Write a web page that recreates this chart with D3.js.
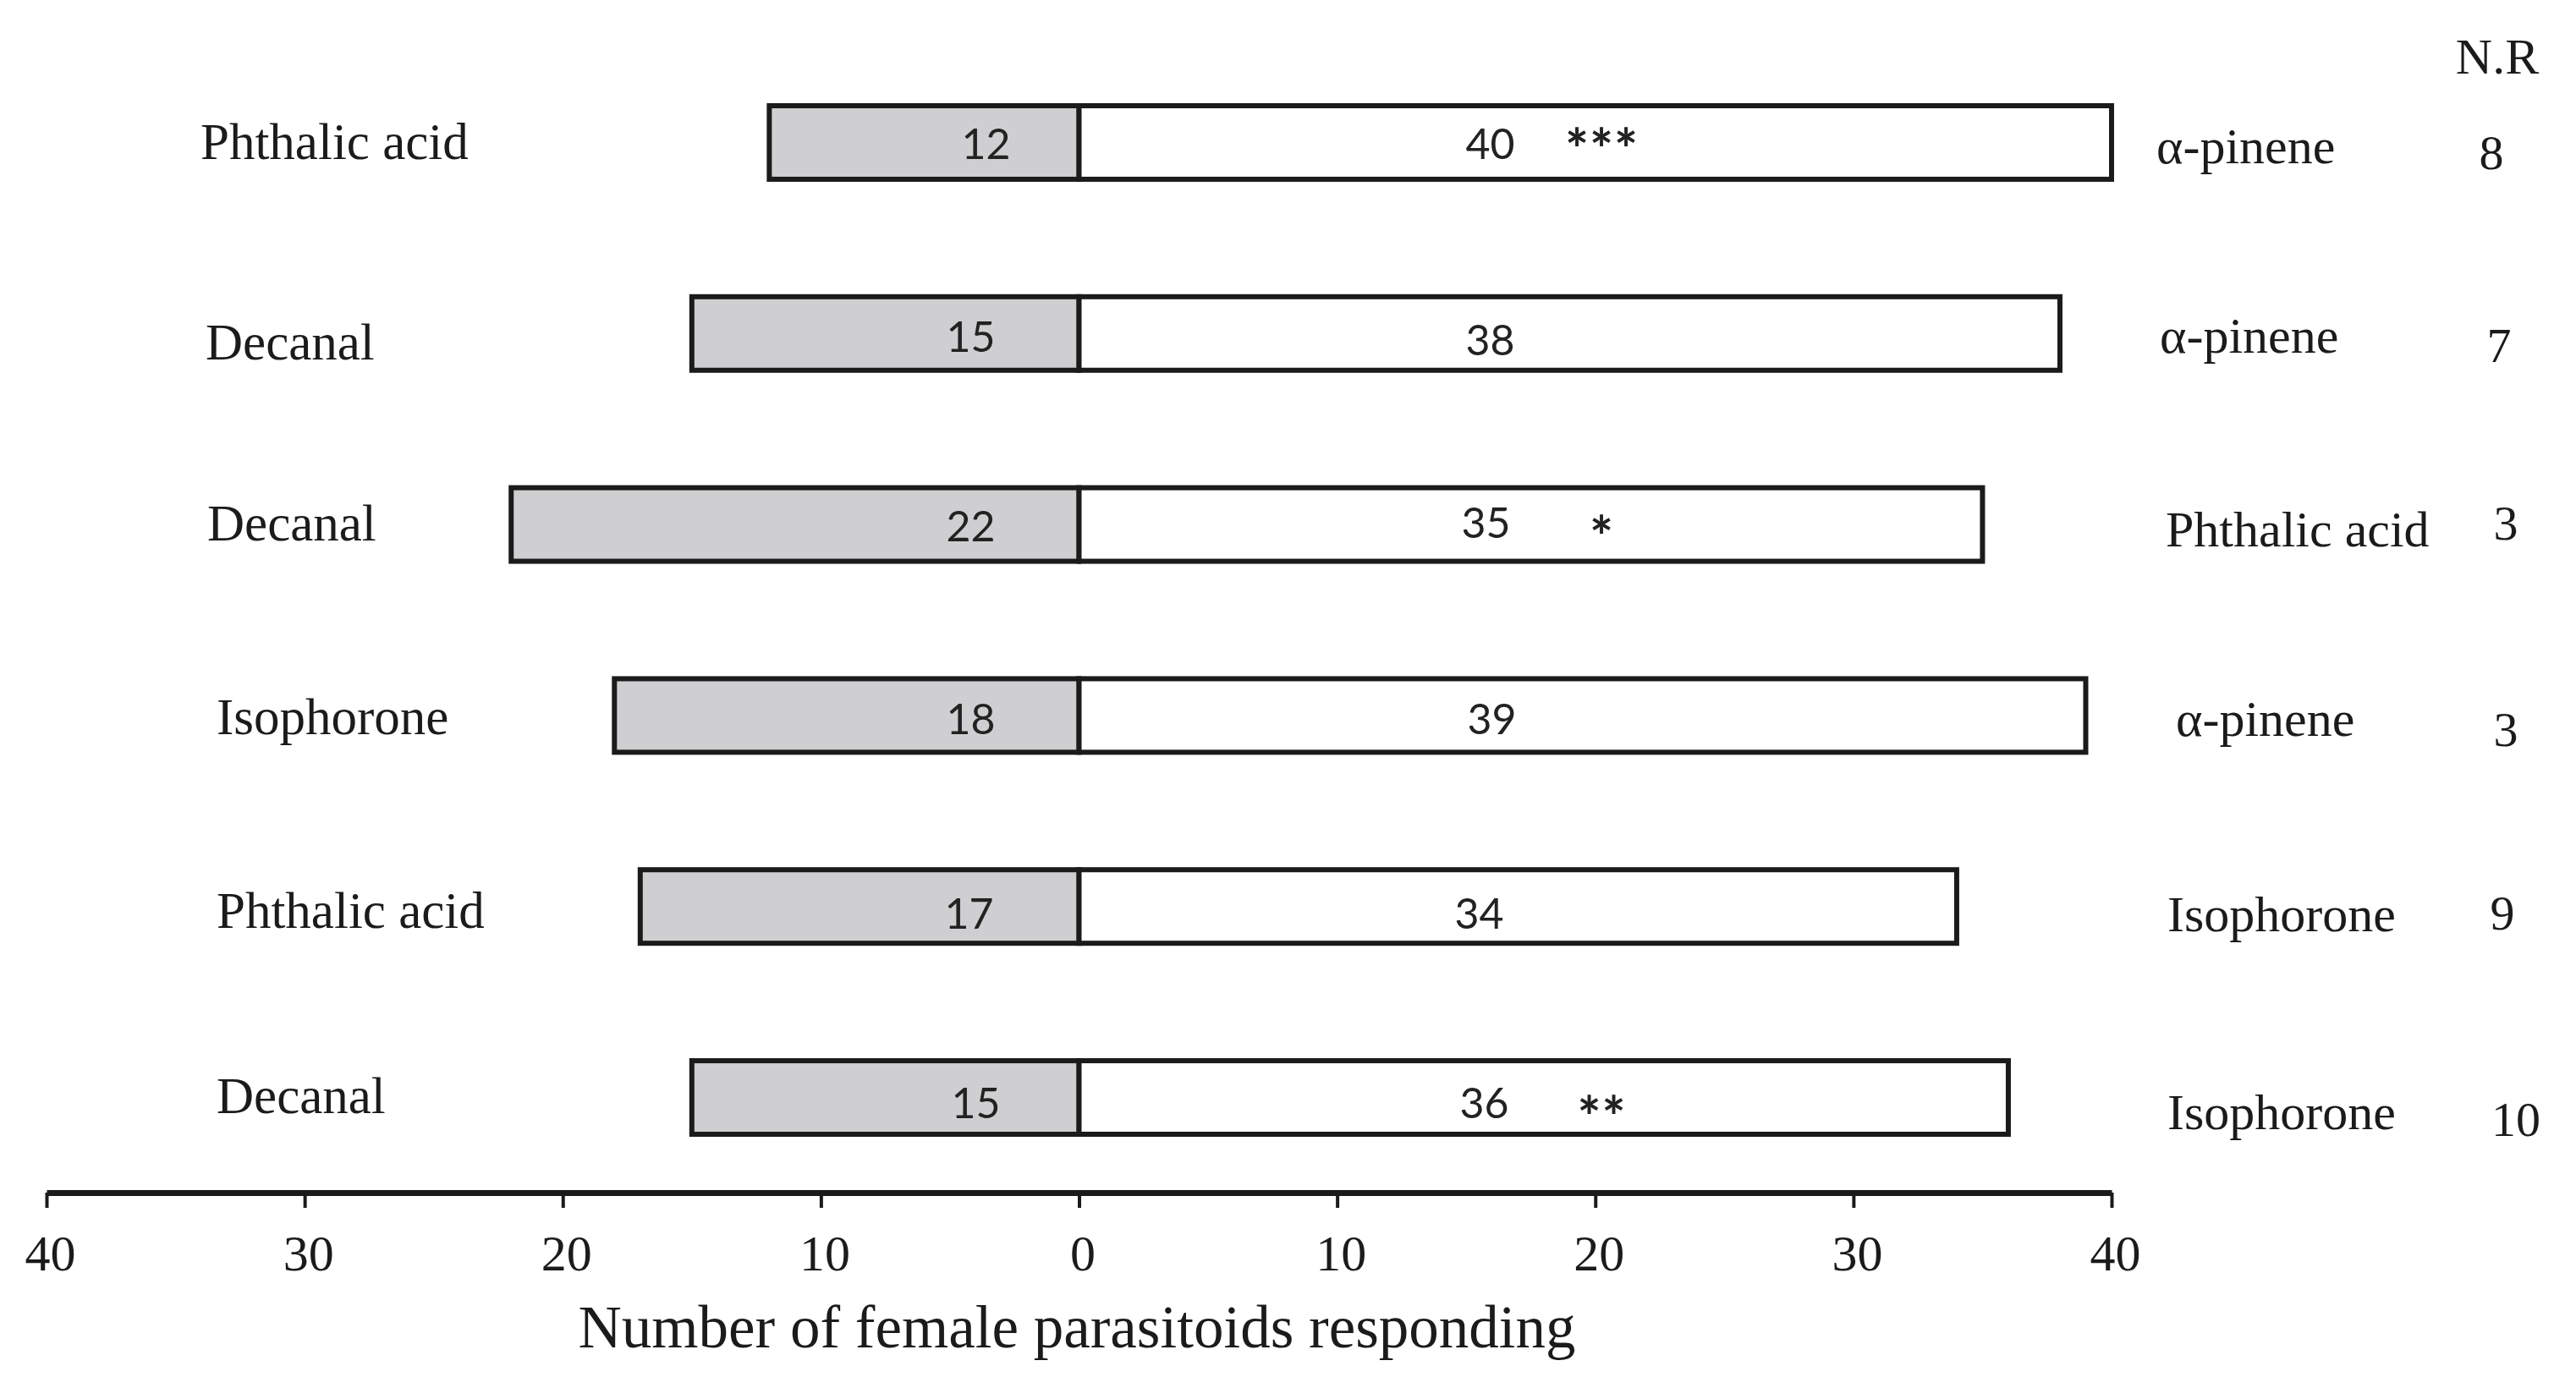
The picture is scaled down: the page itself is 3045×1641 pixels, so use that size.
<!DOCTYPE html>
<html>
<head>
<meta charset="utf-8">
<script src="https://cdn.jsdelivr.net/npm/d3@7"></script>
<style>
  html, body { margin: 0; padding: 0; background: #ffffff; }
  svg { display: block; }
</style>
</head>
<body>
<svg id="chart" width="3045" height="1641"></svg>
<script>
// ---------------- data ----------------
const leftOdours = ["Phthalic acid", "Decanal", "Decanal", "Isophorone", "Phthalic acid", "Decanal"];
const rightOdours = ["α-pinene", "α-pinene", "Phthalic acid", "α-pinene", "Isophorone", "Isophorone"];
const leftCounts = [12, 15, 22, 18, 17, 15];
const rightCounts = [40, 38, 35, 39, 34, 36];
const noResponse = [8, 7, 3, 3, 9, 10];
const significance = ["***", "", "*", "", "", "**"];
const tickValues = [-40, -30, -20, -10, 0, 10, 20, 30, 40];
const axisTitle = "Number of female parasitoids responding";
const nrTitle = "N.R";

// ---------------- layout (text nudges only) ----------------
const layout = {
  leftLabelX: [237, 243, 245, 256, 256, 256],
  leftLabelDy: [0, 11, -1, 2, 5, -2],
  rightLabelX: [2549, 2553, 2560, 2572, 2562, 2562],
  rightLabelDy: [5, 3, 6, 4, 9, 17],
  nrX: [2945, 2954, 2962, 2962, 2958, 2974],
  nrDy: [12, 14, -2, 16, 7, 25],
  leftValDx: [-110, -128, -128, -128, -130, -122],
  leftValDy: [0, 2, 0, 2, 6, 4],
  rightValDx: [486, 486, 481, 488, 473, 479],
  rightValDy: [0, 6, -4, 2, 6, 4],
  starDy: [-4, 0, 2, 0, 0, 10]
};

const serif = "'Liberation Serif', 'Times New Roman', serif";
const sans = "Lato, 'Noto Sans', sans-serif";
const ink = "#1b1b1b";

const svg = d3.select("#chart");
const idx = d3.range(leftOdours.length);

const x = d3.scaleLinear().domain([-40, 40]).range([55, 2496]);
const y = d3.scaleBand().domain(idx).range([125, 1341]).paddingInner(0.615).paddingOuter(0);
const bw = y.bandwidth();
const cy = i => y(i) + bw / 2;

// ---------------- bars ----------------
const rows = svg.append("g").selectAll("g").data(idx).join("g");

rows.append("rect")
  .attr("x", i => x(-leftCounts[i]))
  .attr("y", i => y(i))
  .attr("width", i => x(0) - x(-leftCounts[i]))
  .attr("height", bw)
  .attr("fill", "#cfcfd1")
  .attr("stroke", ink)
  .attr("stroke-width", 6);

rows.append("rect")
  .attr("x", x(0))
  .attr("y", i => y(i))
  .attr("width", i => x(rightCounts[i]) - x(0))
  .attr("height", bw)
  .attr("fill", "#ffffff")
  .attr("stroke", ink)
  .attr("stroke-width", 6);

// values inside bars
rows.append("text")
  .attr("x", i => x(0) + layout.leftValDx[i])
  .attr("y", i => cy(i) + 20 + layout.leftValDy[i])
  .attr("text-anchor", "middle")
  .attr("font-family", sans).attr("font-size", 50).attr("fill", "#222")
  .text(i => leftCounts[i]);

rows.append("text")
  .attr("x", i => x(0) + layout.rightValDx[i])
  .attr("y", i => cy(i) + 20 + layout.rightValDy[i])
  .attr("text-anchor", "middle")
  .attr("font-family", sans).attr("font-size", 50).attr("fill", "#222")
  .text(i => rightCounts[i]);

rows.append("text")
  .attr("x", x(0) + 618)
  .attr("y", i => cy(i) + 37 + layout.starDy[i])
  .attr("text-anchor", "middle")
  .attr("font-family", sans).attr("font-size", 66).attr("letter-spacing", 1)
  .attr("font-weight", 700).attr("fill", "#222")
  .text(i => significance[i]);

// odour labels
rows.append("text")
  .attr("x", i => layout.leftLabelX[i])
  .attr("y", i => cy(i) + 20 + layout.leftLabelDy[i])
  .attr("font-family", serif).attr("font-size", 61).attr("fill", ink)
  .text(i => leftOdours[i]);

rows.append("text")
  .attr("x", i => layout.rightLabelX[i])
  .attr("y", i => cy(i) + 20 + layout.rightLabelDy[i])
  .attr("font-family", serif).attr("font-size", 60).attr("fill", ink)
  .text(i => rightOdours[i]);

rows.append("text")
  .attr("x", i => layout.nrX[i])
  .attr("y", i => cy(i) + 20 + layout.nrDy[i])
  .attr("text-anchor", "middle")
  .attr("font-family", serif).attr("font-size", 58).attr("fill", ink)
  .text(i => noResponse[i]);

svg.append("text")
  .attr("x", 2952).attr("y", 87)
  .attr("text-anchor", "middle")
  .attr("font-family", serif).attr("font-size", 60).attr("fill", ink)
  .text(nrTitle);

// ---------------- axis ----------------
const axis = d3.axisBottom(x)
  .tickValues(tickValues)
  .tickFormat(d => Math.abs(d))
  .tickSize(18)
  .tickSizeOuter(0)
  .tickPadding(31);

const gAxis = svg.append("g")
  .attr("transform", "translate(0,1410)")
  .call(axis);

gAxis.select(".domain").attr("stroke", ink).attr("stroke-width", 7);
gAxis.selectAll(".tick line").attr("stroke", ink).attr("stroke-width", 4);
gAxis.selectAll(".tick text")
  .attr("font-family", serif).attr("font-size", 60).attr("fill", ink)
  .attr("dx", 4);

svg.append("text")
  .attr("x", 1273).attr("y", 1593)
  .attr("text-anchor", "middle")
  .attr("font-family", serif).attr("font-size", 71).attr("fill", ink)
  .text(axisTitle);
</script>
</body>
</html>
